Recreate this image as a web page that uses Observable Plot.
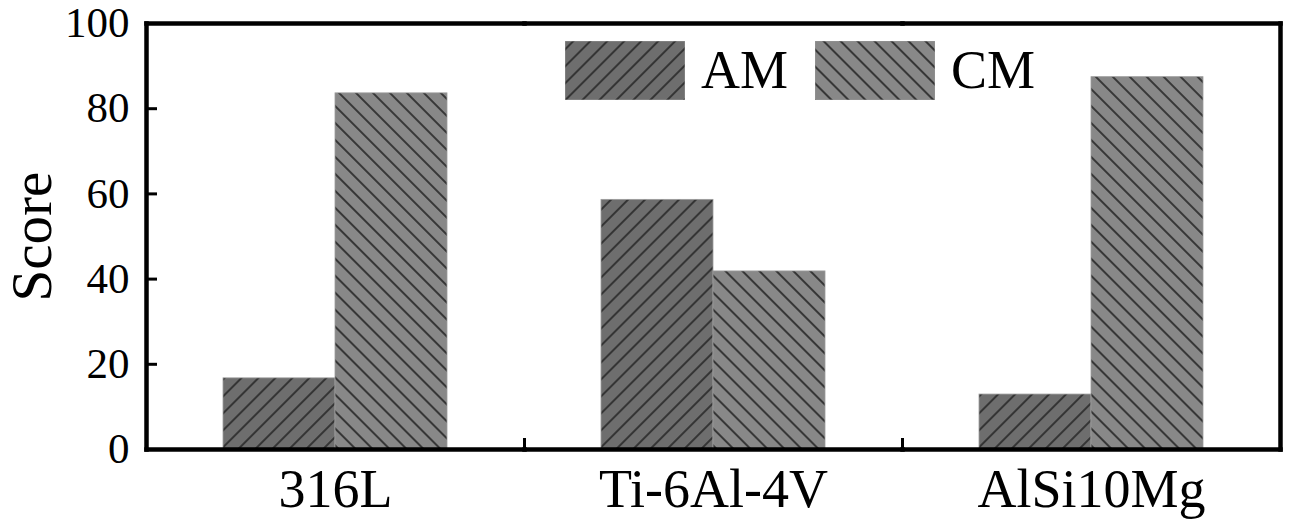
<!DOCTYPE html>
<html><head><meta charset="utf-8">
<script src="https://cdn.jsdelivr.net/npm/d3@7"></script>
<script src="https://cdn.jsdelivr.net/npm/@observablehq/plot@0.6"></script>
<style>
body{margin:0;background:#fff;}
#wrap{position:relative;width:1299px;height:525px;font-family:"Liberation Serif","Times New Roman",serif;color:#000;}
#legend{position:absolute;left:565px;top:41px;display:flex;align-items:center;font-size:54px;line-height:59px;}
#legend .sw{width:120px;height:59px;display:block;}
#legend .lab{margin-left:16px;margin-right:27px;}
</style></head><body>
<svg width="0" height="0" style="position:absolute"><defs>
<pattern id="hatchAM" patternUnits="userSpaceOnUse" width="12" height="12" patternTransform="rotate(45)"><rect width="12" height="12" fill="#6e6e6e"/><line x1="6" y1="0" x2="6" y2="12" stroke="#2e2e2e" stroke-width="1.8"/></pattern>
<pattern id="hatchCM" patternUnits="userSpaceOnUse" width="12" height="12" patternTransform="rotate(-45)"><rect width="12" height="12" fill="#888888"/><line x1="6" y1="0" x2="6" y2="12" stroke="#2e2e2e" stroke-width="1.8"/></pattern>
</defs></svg>
<div id="wrap"><div id="legend"></div></div>
<script>
const categories = ["316L", "Ti-6Al-4V", "AlSi10Mg"];
const series = ["AM", "CM"];
const amScores = [16.7, 58.6, 12.9];
const cmScores = [83.6, 41.8, 87.4];
const yTicks = [0, 20, 40, 60, 80, 100];
const patterns = ["url(#hatchAM)", "url(#hatchCM)"];

const data = categories.flatMap((c, i) => [
  {category: c, series: series[0], score: amScores[i]},
  {category: c, series: series[1], score: cmScores[i]}
]);

const W = 1299, H = 525, mL = 146, mR = 19, mT = 23, mB = 76;
const innerH = H - mT - mB;
const font = "'Liberation Serif','Times New Roman',serif";

const chart = Plot.plot({
  width: W, height: H,
  marginLeft: mL, marginRight: mR, marginTop: mT, marginBottom: mB,
  style: {fontFamily: font, color: "#000", background: "transparent", overflow: "visible"},
  fx: {domain: categories, padding: 0, label: null},
  x: {domain: series, paddingInner: 0, paddingOuter: 0.673, axis: null},
  y: {domain: [0, 100], ticks: yTicks},
  color: {domain: series, range: patterns},
  marks: [
    Plot.barY(data, {fx: "category", x: "series", y: "score", fill: "series", stroke: "#9c9c9c", strokeWidth: 0.8}),
    Plot.axisFx({anchor: "bottom", tickSize: 0, tickPadding: 19, fontSize: 54, label: null}),
    Plot.axisY({anchor: "left", ticks: yTicks, tickSize: 0, tickPadding: 17, fontSize: 43, label: null}),
    Plot.axisY({anchor: "left", ticks: [], tickSize: 0, fontSize: 57, label: "Score", labelArrow: "none", labelAnchor: "center", labelOffset: 136}),
    Plot.axisY({anchor: "right", frameAnchor: "left", facetAnchor: "left", ticks: [20, 40, 60, 80], tickSize: 10, strokeWidth: 3, text: null, label: null}),
    Plot.frame({anchor: "left", insetTop: innerH - 10, strokeWidth: 3}),
    Plot.frame({anchor: "left", facetAnchor: "left", strokeWidth: 4.5}),
    Plot.frame({anchor: "right", facetAnchor: "right", strokeWidth: 4.5}),
    Plot.frame({anchor: "top", strokeWidth: 4.5}),
    Plot.frame({anchor: "bottom", strokeWidth: 4.5})
  ]
});
document.getElementById("wrap").prepend(chart);

const legend = d3.select("#legend");
series.forEach((s, i) => {
  legend.append("div").attr("class", "sw")
    .append("svg").attr("width", 120).attr("height", 59)
    .append("rect").attr("width", 120).attr("height", 59).attr("fill", patterns[i]).attr("stroke", "#9c9c9c").attr("stroke-width", 0.8);
  legend.append("span").attr("class", "lab").text(s);
});
</script>
</body></html>
